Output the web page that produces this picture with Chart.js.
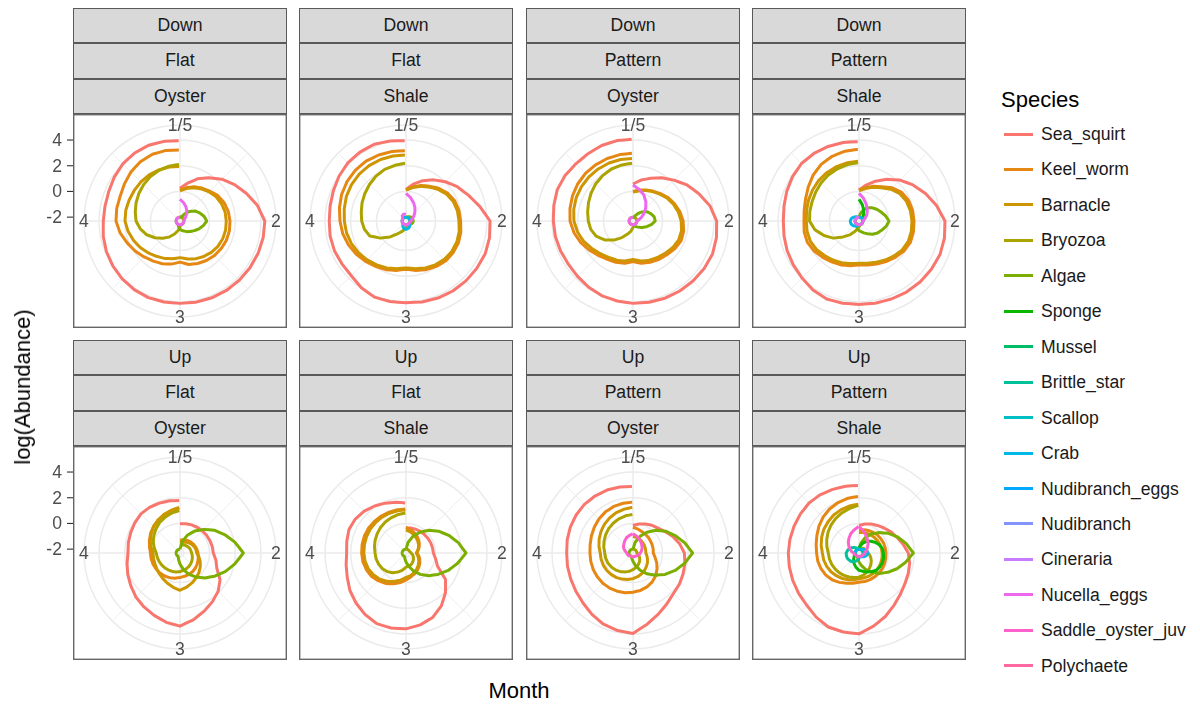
<!DOCTYPE html>
<html lang="en">
<head>
<meta charset="UTF-8">
<title>log(Abundance) by month</title>
<script src="https://cdn.jsdelivr.net/npm/chart.js"></script>
<style>
  body { margin: 0; background: #fff; font-family: "Liberation Sans", Arial, sans-serif; }
  #page { position: relative; width: 1200px; height: 706px; overflow: hidden; background: #fff; }
  #page canvas { position: absolute; }
  .strip { position: absolute; box-sizing: border-box; background: #d9d9d9; border: 1px solid #595959;
           color: #1a1a1a; font-size: 17.6px; text-align: center; white-space: nowrap; }
  .title { position: absolute; font-size: 22px; color: #000; white-space: nowrap; }
  .key { position: absolute; width: 29px; height: 3px; }
  .keylabel { position: absolute; font-size: 17.6px; color: #1a1a1a; white-space: nowrap; transform: translateY(-50%); }
</style>
</head>
<body>
<div id="page"></div>
<script>
// ---- data ---------------------------------------------------------------
const species = ['Sea_squirt', 'Keel_worm', 'Barnacle', 'Bryozoa', 'Algae', 'Sponge', 'Mussel',
  'Brittle_star', 'Scallop', 'Crab', 'Nudibranch_eggs', 'Nudibranch', 'Cineraria',
  'Nucella_eggs', 'Saddle_oyster_juv', 'Polychaete'];

const orientation = ['Down', 'Down', 'Down', 'Down', 'Up', 'Up', 'Up', 'Up'];
const surface = ['Flat', 'Flat', 'Pattern', 'Pattern', 'Flat', 'Flat', 'Pattern', 'Pattern'];
const substrate = ['Oyster', 'Shale', 'Oyster', 'Shale', 'Oyster', 'Shale', 'Oyster', 'Shale'];

// month of each sample (1 and 5 share the top of the circle)
const sampleMonths = [1, 1.125, 1.25, 1.375, 1.5, 1.625, 1.75, 1.875, 2, 2.125, 2.25, 2.375, 2.5,
  2.625, 2.75, 2.875, 3, 3.125, 3.25, 3.375, 3.5, 3.625, 3.75, 3.875, 4, 4.125, 4.25, 4.375,
  4.5, 4.625, 4.75, 4.875, 5];

const rBreaks = [-2, 0, 2, 4];
const monthBreaks = [1, 2, 3, 4];
const monthLabels = ['1/5', '2', '3', '4'];

// log(Abundance) per species, one value per entry of sampleMonths
const DOWN_FLAT_OYSTER = {
  Sea_squirt: [0.24, 0.7, 1.25, 1.75, 2.3, 2.8, 3.3, 3.85, 4.3,
    4.3, 4.28, 4.25, 4.22, 4.2, 4.17, 4.14, 4.11,
    4.13, 4.15, 4.12, 4.06, 3.99, 3.9, 3.79, 3.67,
    3.65, 3.7, 3.85, 3.99, 4.06, 4.08, 4.02, 3.95],
  Keel_worm: [0.11, 0.35, 0.58, 0.78, 0.98, 1.25, 1.42, 1.53, 1.59,
    1.62, 1.61, 1.56, 1.5, 1.4, 1.28, 1.15, 0.9,
    1.12, 1.3, 1.45, 1.65, 1.9, 2.15, 2.45, 2.68,
    2.72, 2.74, 2.9, 3.1, 3.25, 3.32, 3.3, 3.23],
  Barnacle: [0.05, 0.28, 0.5, 0.7, 0.9, 1.08, 1.2, 1.28, 1.3,
    1.32, 1.3, 1.25, 1.15, 1.02, 0.88, 0.72, 0.55,
    0.7, 0.85, 1.0, 1.2, 1.42, 1.62, 1.82, 1.98,
    2.0, 1.98, 1.98, 2.0, 2.02, 2.0, 1.98, 1.95],
  Bryozoa: [-2, -2, -2, -2, -2, -2, -2, -2, -2,
    -2, -2, -2, -2, -2, -2, -1.98, -1.85,
    -1.55, -1.2, -0.8, -0.4, 0.05, 0.5, 0.85, 1.12,
    1.25, 1.4, 1.55, 1.7, 1.85, 1.97, 2.05, 2.1],
  Algae: [-2, -1.98, -1.93, -1.6, -1.25, -0.9, -0.65, -0.4, -0.22,
    -0.45, -0.7, -0.95, -1.15, -1.3, -1.45, -1.55, -1.65,
    -1.8, -1.95, -2, -2, -2, -2, -2, -2,
    -2, -2, -2, -2, -2, -2, -2, -2],
  Nucella_eggs: [-0.61, -0.85, -1.1, -1.35, -1.6, -1.78, -1.9, -1.97, -2,
    -2, -2, -2, -2, -2, -2, -2, -2,
    -2, -2, -2, -2, -2, -2, -2, -2,
    -2, -2, -2, -2, -2, -2, -2, -2]
};

const DOWN_FLAT_SHALE = {
  Sea_squirt: [0.16, 0.62, 1.1, 1.55, 2.02, 2.5, 2.95, 3.55, 4.24,
    4.33, 4.37, 4.33, 4.29, 4.25, 4.19, 4.12, 4.06,
    4.09, 4.11, 3.95, 3.72, 3.7, 3.73, 3.72, 3.67,
    3.72, 3.82, 3.97, 4.1, 4.15, 4.16, 4.05, 3.95],
  Keel_worm: [0.12, 0.4, 0.7, 0.95, 1.3, 1.6, 1.8, 1.9, 1.95,
    2.05, 2.12, 2.12, 2.08, 1.95, 1.8, 1.62, 1.46,
    1.62, 1.8, 1.95, 2.15, 2.35, 2.55, 2.72, 2.84,
    2.98, 3.12, 3.22, 3.28, 3.3, 3.26, 3.22, 3.17],
  Barnacle: [0.1, 0.35, 0.62, 0.88, 1.2, 1.48, 1.68, 1.78, 1.82,
    1.92, 1.98, 1.98, 1.92, 1.8, 1.65, 1.48, 1.35,
    1.48, 1.65, 1.8, 1.98, 2.15, 2.3, 2.42, 2.5,
    2.6, 2.72, 2.8, 2.85, 2.88, 2.88, 2.86, 2.84],
  Bryozoa: [-2, -2, -2, -2, -2, -2, -2, -2, -2,
    -2, -2, -2, -2, -2, -2, -1.95, -1.8,
    -1.6, -1.4, -1.1, -0.55, 0.1, 0.75, 1.0, 1.15,
    1.25, 1.4, 1.55, 1.72, 1.9, 2.05, 2.12, 2.19],
  Algae: [-2, -1.98, -1.95, -1.9, -1.85, -1.8, -1.77, -1.75, -1.73,
    -1.75, -1.8, -1.85, -1.9, -1.95, -2, -2, -2,
    -2, -2, -2, -2, -2, -2, -2, -2,
    -2, -2, -2, -2, -2, -2, -2, -2],
  Crab: [-2, -2, -2, -2, -2, -2, -2, -2, -2,
    -2, -2, -2, -1.9, -1.8, -1.72, -1.68, -1.65,
    -1.68, -1.75, -1.85, -1.95, -2, -2, -2, -2,
    -2, -2, -2, -2, -2, -2, -2, -2],
  Nucella_eggs: [-0.15, -0.45, -0.76, -1.05, -1.32, -1.55, -1.72, -1.85, -1.93,
    -1.97, -2, -2, -2, -2, -2, -2, -2,
    -2, -2, -2, -2, -2, -2, -2, -2,
    -2, -2, -2, -1.9, -1.8, -1.75, -1.75, -1.8]
};

const DOWN_PATTERN_OYSTER = {
  Sea_squirt: [0.58, 0.95, 1.3, 1.75, 2.2, 2.75, 3.25, 3.8, 4.21,
    4.32, 4.4, 4.36, 4.3, 4.25, 4.2, 4.15, 4.11,
    4.05, 4.0, 3.9, 3.8, 3.75, 3.8, 3.86, 3.9,
    3.98, 4.08, 4.06, 3.99, 4.0, 4.06, 4.08, 4.06],
  Keel_worm: [0.0, 0.15, 0.32, 0.5, 0.72, 0.98, 1.2, 1.42, 1.6,
    1.72, 1.75, 1.6, 1.42, 1.3, 1.18, 1.05, 0.86,
    1.05, 1.18, 1.28, 1.5, 1.78, 2.1, 2.38, 2.6,
    2.7, 2.8, 2.88, 2.93, 2.95, 2.96, 2.97, 2.97],
  Barnacle: [-0.05, 0.1, 0.27, 0.45, 0.65, 0.9, 1.1, 1.3, 1.45,
    1.55, 1.55, 1.42, 1.25, 1.12, 1.0, 0.88, 0.7,
    0.88, 1.0, 1.1, 1.3, 1.55, 1.85, 2.1, 2.3,
    2.4, 2.48, 2.52, 2.55, 2.57, 2.58, 2.58, 2.57],
  Bryozoa: [-2, -2, -2, -2, -2, -2, -2, -2, -2,
    -2, -2, -2, -2, -2, -2, -1.95, -1.8,
    -1.5, -1.2, -0.75, -0.2, 0.35, 0.8, 1.05, 1.18,
    1.3, 1.45, 1.62, 1.8, 1.95, 2.08, 2.15, 2.2],
  Algae: [-2, -2, -1.85, -1.6, -1.3, -1.0, -0.8, -0.62, -0.57,
    -0.85, -1.15, -1.4, -1.6, -1.75, -1.85, -1.95, -2,
    -2, -2, -2, -2, -2, -2, -2, -2,
    -2, -2, -2, -2, -2, -2, -2, -2],
  Nucella_eggs: [0.5, 0.2, -0.1, -0.5, -0.9, -1.3, -1.6, -1.85, -2,
    -2, -2, -2, -2, -2, -2, -2, -2,
    -2, -2, -2, -2, -2, -2, -2, -2,
    -2, -2, -2, -2, -2, -2, -2, -2]
};

const DOWN_PATTERN_SHALE = {
  Sea_squirt: [0.11, 0.55, 1.05, 1.6, 2.2, 2.75, 3.3, 3.85, 4.39,
    4.48, 4.52, 4.47, 4.42, 4.35, 4.27, 4.22, 4.19,
    4.23, 4.27, 4.15, 3.97, 3.85, 3.75, 3.65, 3.59,
    3.65, 3.78, 3.92, 4.03, 4.02, 3.98, 3.93, 3.87],
  Keel_worm: [0.1, 0.35, 0.62, 0.9, 1.35, 1.7, 1.88, 1.95, 1.98,
    2.02, 2.03, 1.9, 1.7, 1.5, 1.32, 1.2, 1.12,
    1.25, 1.4, 1.52, 1.7, 1.9, 2.05, 2.05, 1.98,
    2.05, 2.2, 2.45, 2.75, 3.0, 3.15, 3.24, 3.28],
  Barnacle: [0.05, 0.28, 0.55, 0.82, 1.2, 1.52, 1.7, 1.78, 1.82,
    1.85, 1.85, 1.75, 1.55, 1.35, 1.18, 1.05, 0.98,
    1.08, 1.22, 1.35, 1.5, 1.68, 1.8, 1.82, 1.8,
    1.86, 1.95, 2.05, 2.15, 2.22, 2.28, 2.32, 2.35],
  Bryozoa: [-2, -2, -2, -2, -2, -2, -2, -2, -2,
    -2, -2, -2, -2, -2, -2, -1.95, -1.85,
    -1.65, -1.4, -1.0, -0.55, 0.1, 0.65, 1.2, 1.55,
    1.6, 1.65, 1.75, 1.88, 2.0, 2.1, 2.18, 2.24],
  Algae: [-2, -1.7, -1.35, -1.05, -0.85, -0.65, -0.45, -0.2, 0.04,
    -0.15, -0.4, -0.6, -0.85, -1.1, -1.3, -1.45, -1.55,
    -1.7, -1.85, -1.95, -2, -2, -2, -2, -2,
    -2, -2, -2, -2, -2, -2, -2, -2],
  Sponge: [-0.6, -1.0, -1.35, -1.65, -1.85, -1.95, -2, -2, -2,
    -2, -2, -2, -2, -2, -2, -2, -2,
    -2, -2, -2, -2, -2, -2, -2, -2,
    -2, -2, -2, -2, -2, -2, -2, -2],
  Crab: [-2, -2, -2, -2, -2, -2, -2, -2, -2,
    -2, -2, -2, -2, -2, -2, -2, -2,
    -1.95, -1.9, -1.82, -1.75, -1.7, -1.65, -1.63, -1.62,
    -1.65, -1.7, -1.78, -1.85, -1.9, -1.95, -2, -2],
  Nucella_eggs: [-0.15, -0.5, -0.85, -1.15, -1.4, -1.62, -1.8, -1.92, -2,
    -2, -2, -2, -2, -2, -2, -2, -2,
    -2, -2, -2, -2, -2, -2, -2, -2,
    -2, -2, -2, -2, -2, -2, -2, -2]
};

const UP_FLAT_OYSTER = {
  Sea_squirt: [-0.03, 0.02, 0.07, 0.11, 0.15, 0.19, 0.22, 0.26, 0.29,
    0.55, 0.8, 1.45, 1.9, 2.25, 2.6, 3.0, 3.39,
    3.2, 2.95, 2.75, 2.55, 2.3, 2.1, 1.9, 1.75,
    1.8, 1.85, 1.93, 2.0, 1.97, 1.9, 1.84, 1.79],
  Keel_worm: [-1.3, -1.25, -1.2, -1.15, -1.1, -1.05, -1.0, -0.95, -0.9,
    -0.85, -0.78, -0.7, -0.62, -0.55, -0.5, -0.45, -0.4,
    -0.3, -0.22, -0.15, -0.1, -0.06, -0.03, -0.01, 0.0,
    0.12, 0.28, 0.45, 0.62, 0.78, 0.92, 1.05, 1.15],
  Barnacle: [-1.5, -1.45, -1.38, -1.3, -1.22, -1.15, -1.08, -1.03, -1.0,
    -0.8, -0.6, -0.4, -0.2, 0.0, 0.2, 0.4, 0.6,
    0.42, 0.25, 0.1, -0.02, -0.12, -0.18, -0.2, -0.2,
    0.0, 0.2, 0.4, 0.6, 0.78, 0.95, 1.1, 1.25],
  Bryozoa: [-1.7, -1.66, -1.62, -1.58, -1.54, -1.5, -1.46, -1.43, -1.4,
    -1.33, -1.26, -1.19, -1.12, -1.05, -0.98, -0.92, -0.85,
    -0.8, -0.75, -0.7, -0.65, -0.6, -0.55, -0.5, -0.45,
    -0.25, -0.05, 0.15, 0.35, 0.55, 0.72, 0.88, 1.0],
  Algae: [-2, -1.4, -0.8, -0.25, 0.3, 0.9, 1.45, 2.05, 2.63,
    2.05, 1.5, 0.95, 0.45, -0.05, -0.5, -1.0, -1.45,
    -1.75, -1.95, -2, -2, -2, -2, -2, -2,
    -2, -2, -2, -2, -2, -2, -2, -2]
};

const UP_FLAT_SHALE = {
  Sea_squirt: [-0.34, -0.32, -0.3, -0.28, -0.27, -0.25, -0.22, -0.2, -0.17,
    0.05, 0.35, 1.4, 2.05, 2.65, 3.13, 3.4, 3.6,
    3.65, 3.65, 3.45, 3.2, 2.95, 2.65, 2.45, 2.32,
    2.4, 2.5, 2.45, 2.3, 2.1, 1.9, 1.72, 1.6],
  Keel_worm: [-0.3, -0.45, -0.6, -0.75, -0.9, -1.05, -1.2, -1.35, -1.45,
    -1.3, -1.15, -1.0, -0.85, -0.7, -0.55, -0.4, -0.2,
    0.05, 0.3, 0.55, 0.75, 0.95, 1.05, 1.12, 1.15,
    1.18, 1.2, 1.2, 1.18, 1.16, 1.14, 1.13, 1.12],
  Barnacle: [-0.5, -0.62, -0.75, -0.88, -1.0, -1.12, -1.25, -1.38, -1.5,
    -1.38, -1.25, -1.1, -0.95, -0.8, -0.65, -0.5, -0.4,
    -0.15, 0.1, 0.35, 0.58, 0.75, 0.88, 0.95, 0.98,
    1.0, 1.02, 1.04, 1.05, 1.05, 1.05, 1.05, 1.05],
  Bryozoa: [-2, -2, -2, -2, -2, -2, -2, -1.95, -1.9,
    -1.8, -1.7, -1.6, -1.5, -1.4, -1.3, -1.25, -1.2,
    -0.95, -0.7, -0.45, -0.25, -0.1, 0.0, 0.07, 0.11,
    0.2, 0.3, 0.4, 0.5, 0.6, 0.68, 0.76, 0.81],
  Algae: [-2, -1.45, -0.9, -0.35, 0.2, 0.75, 1.3, 1.85, 2.37,
    1.8, 1.25, 0.7, 0.2, -0.3, -0.8, -1.25, -1.6,
    -1.85, -2, -2, -2, -2, -2, -2, -2,
    -2, -2, -2, -2, -2, -2, -2, -2]
};

const UP_PATTERN_OYSTER = {
  Sea_squirt: [-0.16, 0.0, 0.15, 0.3, 0.45, 0.7, 1.05, 1.4, 1.7,
    1.82, 1.92, 2.05, 2.15, 2.45, 2.85, 3.35, 3.96,
    3.85, 3.7, 3.45, 3.2, 3.05, 2.95, 2.9, 2.86,
    2.92, 2.98, 3.02, 3.05, 3.03, 3.0, 2.94, 2.87],
  Keel_worm: [-0.3, -0.4, -0.5, -0.55, -0.6, -0.65, -0.68, -0.7, -0.72,
    -0.55, -0.3, -0.05, 0.2, 0.4, 0.55, 0.67, 0.75,
    0.85, 0.92, 0.98, 1.02, 1.04, 1.05, 1.05, 1.05,
    1.1, 1.2, 1.32, 1.45, 1.55, 1.62, 1.65, 1.66],
  Barnacle: [-1.0, -1.05, -1.1, -1.15, -1.2, -1.24, -1.27, -1.29, -1.3,
    -1.2, -1.08, -0.95, -0.82, -0.68, -0.55, -0.42, -0.3,
    -0.2, -0.1, 0.0, 0.08, 0.15, 0.2, 0.23, 0.25,
    0.4, 0.55, 0.7, 0.85, 0.98, 1.1, 1.18, 1.25],
  Bryozoa: [-2, -2, -2, -2, -2, -2, -2, -2, -2,
    -1.9, -1.8, -1.7, -1.55, -1.42, -1.28, -1.15, -1.0,
    -0.85, -0.7, -0.55, -0.42, -0.3, -0.2, -0.14, -0.1,
    0.02, 0.14, 0.26, 0.38, 0.48, 0.58, 0.65, 0.7],
  Algae: [-2, -1.45, -0.9, -0.35, 0.2, 0.75, 1.25, 1.8, 2.34,
    1.8, 1.25, 0.7, 0.15, -0.35, -0.85, -1.3, -1.65,
    -1.85, -2, -2, -2, -2, -2, -2, -2,
    -2, -2, -2, -2, -2, -2, -2, -2],
  Saddle_oyster_juv: [-0.8, -0.95, -1.1, -1.22, -1.35, -1.45, -1.55, -1.65, -1.73,
    -1.8, -1.87, -1.93, -1.97, -2, -2, -2, -2,
    -2, -2, -2, -1.97, -1.93, -1.88, -1.85, -1.82,
    -1.7, -1.55, -1.4, -1.3, -1.15, -1.0, -0.9, -0.8]
};

const UP_PATTERN_SHALE = {
  Sea_squirt: [-0.16, 0.0, 0.15, 0.28, 0.45, 0.68, 0.9, 1.2, 1.54,
    1.72, 1.85, 2.0, 2.25, 2.6, 3.05, 3.5, 3.99,
    3.97, 3.93, 3.7, 3.45, 3.35, 3.28, 3.23, 3.2,
    3.18, 3.17, 3.18, 3.2, 3.15, 3.06, 3.0, 2.95],
  Keel_worm: [-0.5, -0.45, -0.4, -0.35, -0.3, -0.27, -0.24, -0.22, -0.2,
    -0.18, -0.15, -0.12, -0.1, -0.08, -0.06, -0.04, -0.03,
    0.1, 0.25, 0.45, 0.65, 0.8, 0.9, 0.97, 1.0,
    1.1, 1.25, 1.45, 1.65, 1.82, 1.95, 2.05, 2.1],
  Barnacle: [-0.7, -0.68, -0.65, -0.62, -0.6, -0.57, -0.54, -0.52, -0.5,
    -0.47, -0.44, -0.41, -0.38, -0.36, -0.34, -0.32, -0.3,
    -0.18, -0.05, 0.08, 0.2, 0.32, 0.42, 0.5, 0.55,
    0.7, 0.85, 1.0, 1.12, 1.25, 1.35, 1.43, 1.5],
  Bryozoa: [-2, -1.95, -1.9, -1.85, -1.8, -1.75, -1.7, -1.65, -1.6,
    -1.45, -1.3, -1.15, -1.0, -0.85, -0.7, -0.55, -0.42,
    -0.35, -0.28, -0.2, -0.13, -0.06, 0.0, 0.05, 0.09,
    0.25, 0.42, 0.6, 0.78, 0.95, 1.1, 1.25, 1.4],
  Algae: [-2, -1.5, -1.0, -0.5, -0.05, 0.45, 0.95, 1.45, 1.93,
    1.4, 0.9, 0.4, -0.05, -0.5, -0.9, -1.3, -1.6,
    -1.85, -2, -2, -2, -2, -2, -2, -2,
    -2, -2, -2, -2, -2, -2, -2, -2],
  Sponge: [-1.9, -1.7, -1.45, -1.2, -1.0, -0.8, -0.6, -0.45, -0.4,
    -0.35, -0.33, -0.35, -0.4, -0.55, -0.7, -0.85, -0.95,
    -1.15, -1.35, -1.55, -1.72, -1.85, -1.95, -2, -2,
    -2, -2, -2, -2, -2, -2, -2, -2],
  Brittle_star: [-2, -2, -2, -2, -2, -2, -2, -2, -2,
    -2, -2, -2, -2, -2, -2, -2, -1.9,
    -1.75, -1.6, -1.48, -1.4, -1.34, -1.3, -1.3, -1.3,
    -1.38, -1.45, -1.58, -1.7, -1.8, -1.9, -1.95, -2],
  Crab: [-2, -2, -2, -2, -1.9, -1.8, -1.72, -1.65, -1.62,
    -1.65, -1.72, -1.8, -1.88, -1.95, -2, -2, -2,
    -2, -2, -2, -2, -2, -2, -2, -2,
    -2, -2, -2, -2, -2, -2, -2, -2],
  Saddle_oyster_juv: [-0.24, -0.55, -0.85, -1.1, -1.3, -1.5, -1.65, -1.78, -1.85,
    -1.9, -1.95, -1.97, -2, -2, -2, -2, -2,
    -2, -2, -2, -2, -2, -1.97, -1.92, -1.85,
    -1.72, -1.55, -1.35, -1.12, -0.9, -0.65, -0.45, -0.24]
};

const panelData = [DOWN_FLAT_OYSTER, DOWN_FLAT_SHALE, DOWN_PATTERN_OYSTER, DOWN_PATTERN_SHALE,
  UP_FLAT_OYSTER, UP_FLAT_SHALE, UP_PATTERN_OYSTER, UP_PATTERN_SHALE];

// ---- styling / layout -------------------------------------------------------
const speciesColors = ['#F8766D', '#E68613', '#CD9600', '#ABA300', '#7CAE00', '#0CB702', '#00BE67',
  '#00C19A', '#00BFC4', '#00B8E7', '#00A9FF', '#8494FF', '#C77CFF', '#ED68ED', '#FF61CC', '#FF68A1'];

const PANEL = 214;          // panel side, px
const PAD = 11;             // outer ring sits 0.45 of the panel from its centre
const AXIS_W = 60;          // room for the r-axis ticks left of the first column
const R_MIN = -2.3;         // value at the centre
const R_MAX = 5.17;         // value on the outer ring (label ring)
const colX = [73, 299, 526, 752];
const rowY = [114, 446];
const stripTop = [8, 340];
const STRIP_H = 35.33;
const FONT = '"Liberation Sans", Arial, sans-serif';

// the angular axis is a fine grid of month slots; samples land on every SUB-th slot
const STEPS_PER_MONTH = 8;
const SUB = 12;
const SLOTS = 4 * STEPS_PER_MONTH * SUB;
const fineMonths = Array.from({ length: SLOTS }, (_, i) => 1 + i / (STEPS_PER_MONTH * SUB));
const slotFor = m => Math.min(Math.round((m - 1) * STEPS_PER_MONTH * SUB), SLOTS - 1);

function place(values) {
  const out = new Array(SLOTS).fill(null);
  sampleMonths.forEach((m, k) => { out[slotFor(m)] = values[k]; });
  return out;
}

function spokeWidth(i) {
  const perMonth = STEPS_PER_MONTH * SUB;
  if (i % perMonth === 0) return 1.5;
  if (i % (perMonth / 2) === 0) return 0.8;
  return 0;
}

// lines run from month 1 round to month 5 and stay open
const openSpirals = {
  id: 'openSpirals',
  afterDatasetUpdate(chart, args) {
    const line = args.meta.dataset;
    if (!line) return;
    line._loop = false;
    line._fullLoop = false;
    delete line._segments;
    delete line._path;
  }
};

// panel border, month labels on the ring, and the r-axis on the first column
const panelFrame = {
  id: 'panelFrame',
  afterDraw(chart, args, opts) {
    const { ctx, chartArea } = chart;
    const r = chart.scales.r;
    const x0 = chartArea.left - PAD;
    const y0 = chartArea.top - PAD;
    ctx.save();
    ctx.font = '17.6px ' + FONT;
    ctx.fillStyle = '#4d4d4d';
    ctx.textAlign = 'center';
    ctx.textBaseline = 'middle';
    monthBreaks.forEach((m, i) => {
      const p = r.getPointPosition(slotFor(m), r.drawingArea);
      ctx.fillText(monthLabels[i], p.x, p.y + 1);
    });
    ctx.strokeStyle = '#666';
    ctx.lineWidth = 1.4;
    ctx.strokeRect(x0 + 0.7, y0 + 0.7, PANEL - 1.4, PANEL - 1.4);
    if (opts.showAxis) {
      ctx.textAlign = 'right';
      ctx.strokeStyle = '#333';
      ctx.lineWidth = 1.1;
      rBreaks.forEach(v => {
        const y = r.yCenter - r.getDistanceFromCenterForValue(v);
        ctx.beginPath();
        ctx.moveTo(x0 - 6, y);
        ctx.lineTo(x0, y);
        ctx.stroke();
        ctx.fillText(String(v), x0 - 11, y + 1);
      });
    }
    ctx.restore();
  }
};

// ---- build ----------------------------------------------------------------
const page = document.getElementById('page');

function addDiv(cls, text, style) {
  const d = document.createElement('div');
  d.className = cls;
  if (text !== null) d.textContent = text;
  Object.assign(d.style, style);
  page.appendChild(d);
  return d;
}

panelData.forEach((data, p) => {
  const row = p < 4 ? 0 : 1;
  const col = p % 4;
  [orientation[p], surface[p], substrate[p]].forEach((txt, j) => {
    addDiv('strip', txt, {
      left: colX[col] + 'px', top: (stripTop[row] + j * STRIP_H) + 'px',
      width: PANEL + 'px', height: STRIP_H + 'px', lineHeight: (STRIP_H - 2) + 'px'
    });
  });

  const extra = col === 0 ? AXIS_W : 0;
  const canvas = document.createElement('canvas');
  canvas.width = PANEL + extra;
  canvas.height = PANEL;
  canvas.style.left = (colX[col] - extra) + 'px';
  canvas.style.top = rowY[row] + 'px';
  page.appendChild(canvas);

  const datasets = [];
  species.forEach((name, idx) => {
    if (!data[name]) return;
    datasets.push({
      label: name,
      data: place(data[name]),
      borderColor: speciesColors[idx],
      backgroundColor: speciesColors[idx],
      borderWidth: 3,
      borderJoinStyle: 'round',
      fill: false,
      spanGaps: true,
      tension: 0.001,        // non-zero keeps Chart.js off its x-bucketing fast path
      pointRadius: 0,
      pointHitRadius: 0,
      order: -idx            // later species are drawn on top
    });
  });

  new Chart(canvas, {
    type: 'radar',
    data: { labels: fineMonths, datasets },
    options: {
      responsive: false,
      animation: false,
      events: [],
      layout: { padding: { left: PAD + extra, right: PAD, top: PAD, bottom: PAD } },
      plugins: {
        legend: { display: false },
        tooltip: { enabled: false },
        panelFrame: { showAxis: col === 0 }
      },
      scales: {
        r: {
          min: R_MIN,
          max: R_MAX,
          startAngle: 0,
          grid: { circular: true, color: '#ebebeb', lineWidth: 1.5 },
          angleLines: { color: '#ebebeb', lineWidth: ctx => spokeWidth(ctx.index) },
          pointLabels: { display: false },
          ticks: { display: false },
          afterBuildTicks: scale => {
            scale.ticks = rBreaks.concat(R_MAX).map(value => ({ value }));
          }
        }
      }
    },
    plugins: [openSpirals, panelFrame]
  });
});

// axis titles
addDiv('title', 'log(Abundance)', {
  left: '23px', top: '387px', transform: 'translate(-50%, -50%) rotate(-90deg)'
});
addDiv('title', 'Month', { left: '519px', top: '691px', transform: 'translate(-50%, -50%)' });

// legend
addDiv('title', 'Species', { left: '1001px', top: '100px', transform: 'translateY(-50%)' });
species.forEach((name, i) => {
  const cy = 134 + i * 35.45;
  addDiv('key', null, { left: '1004px', top: (cy - 1.5) + 'px', background: speciesColors[i] });
  addDiv('keylabel', name, { left: '1041px', top: cy + 'px' });
});
</script>
</body>
</html>
